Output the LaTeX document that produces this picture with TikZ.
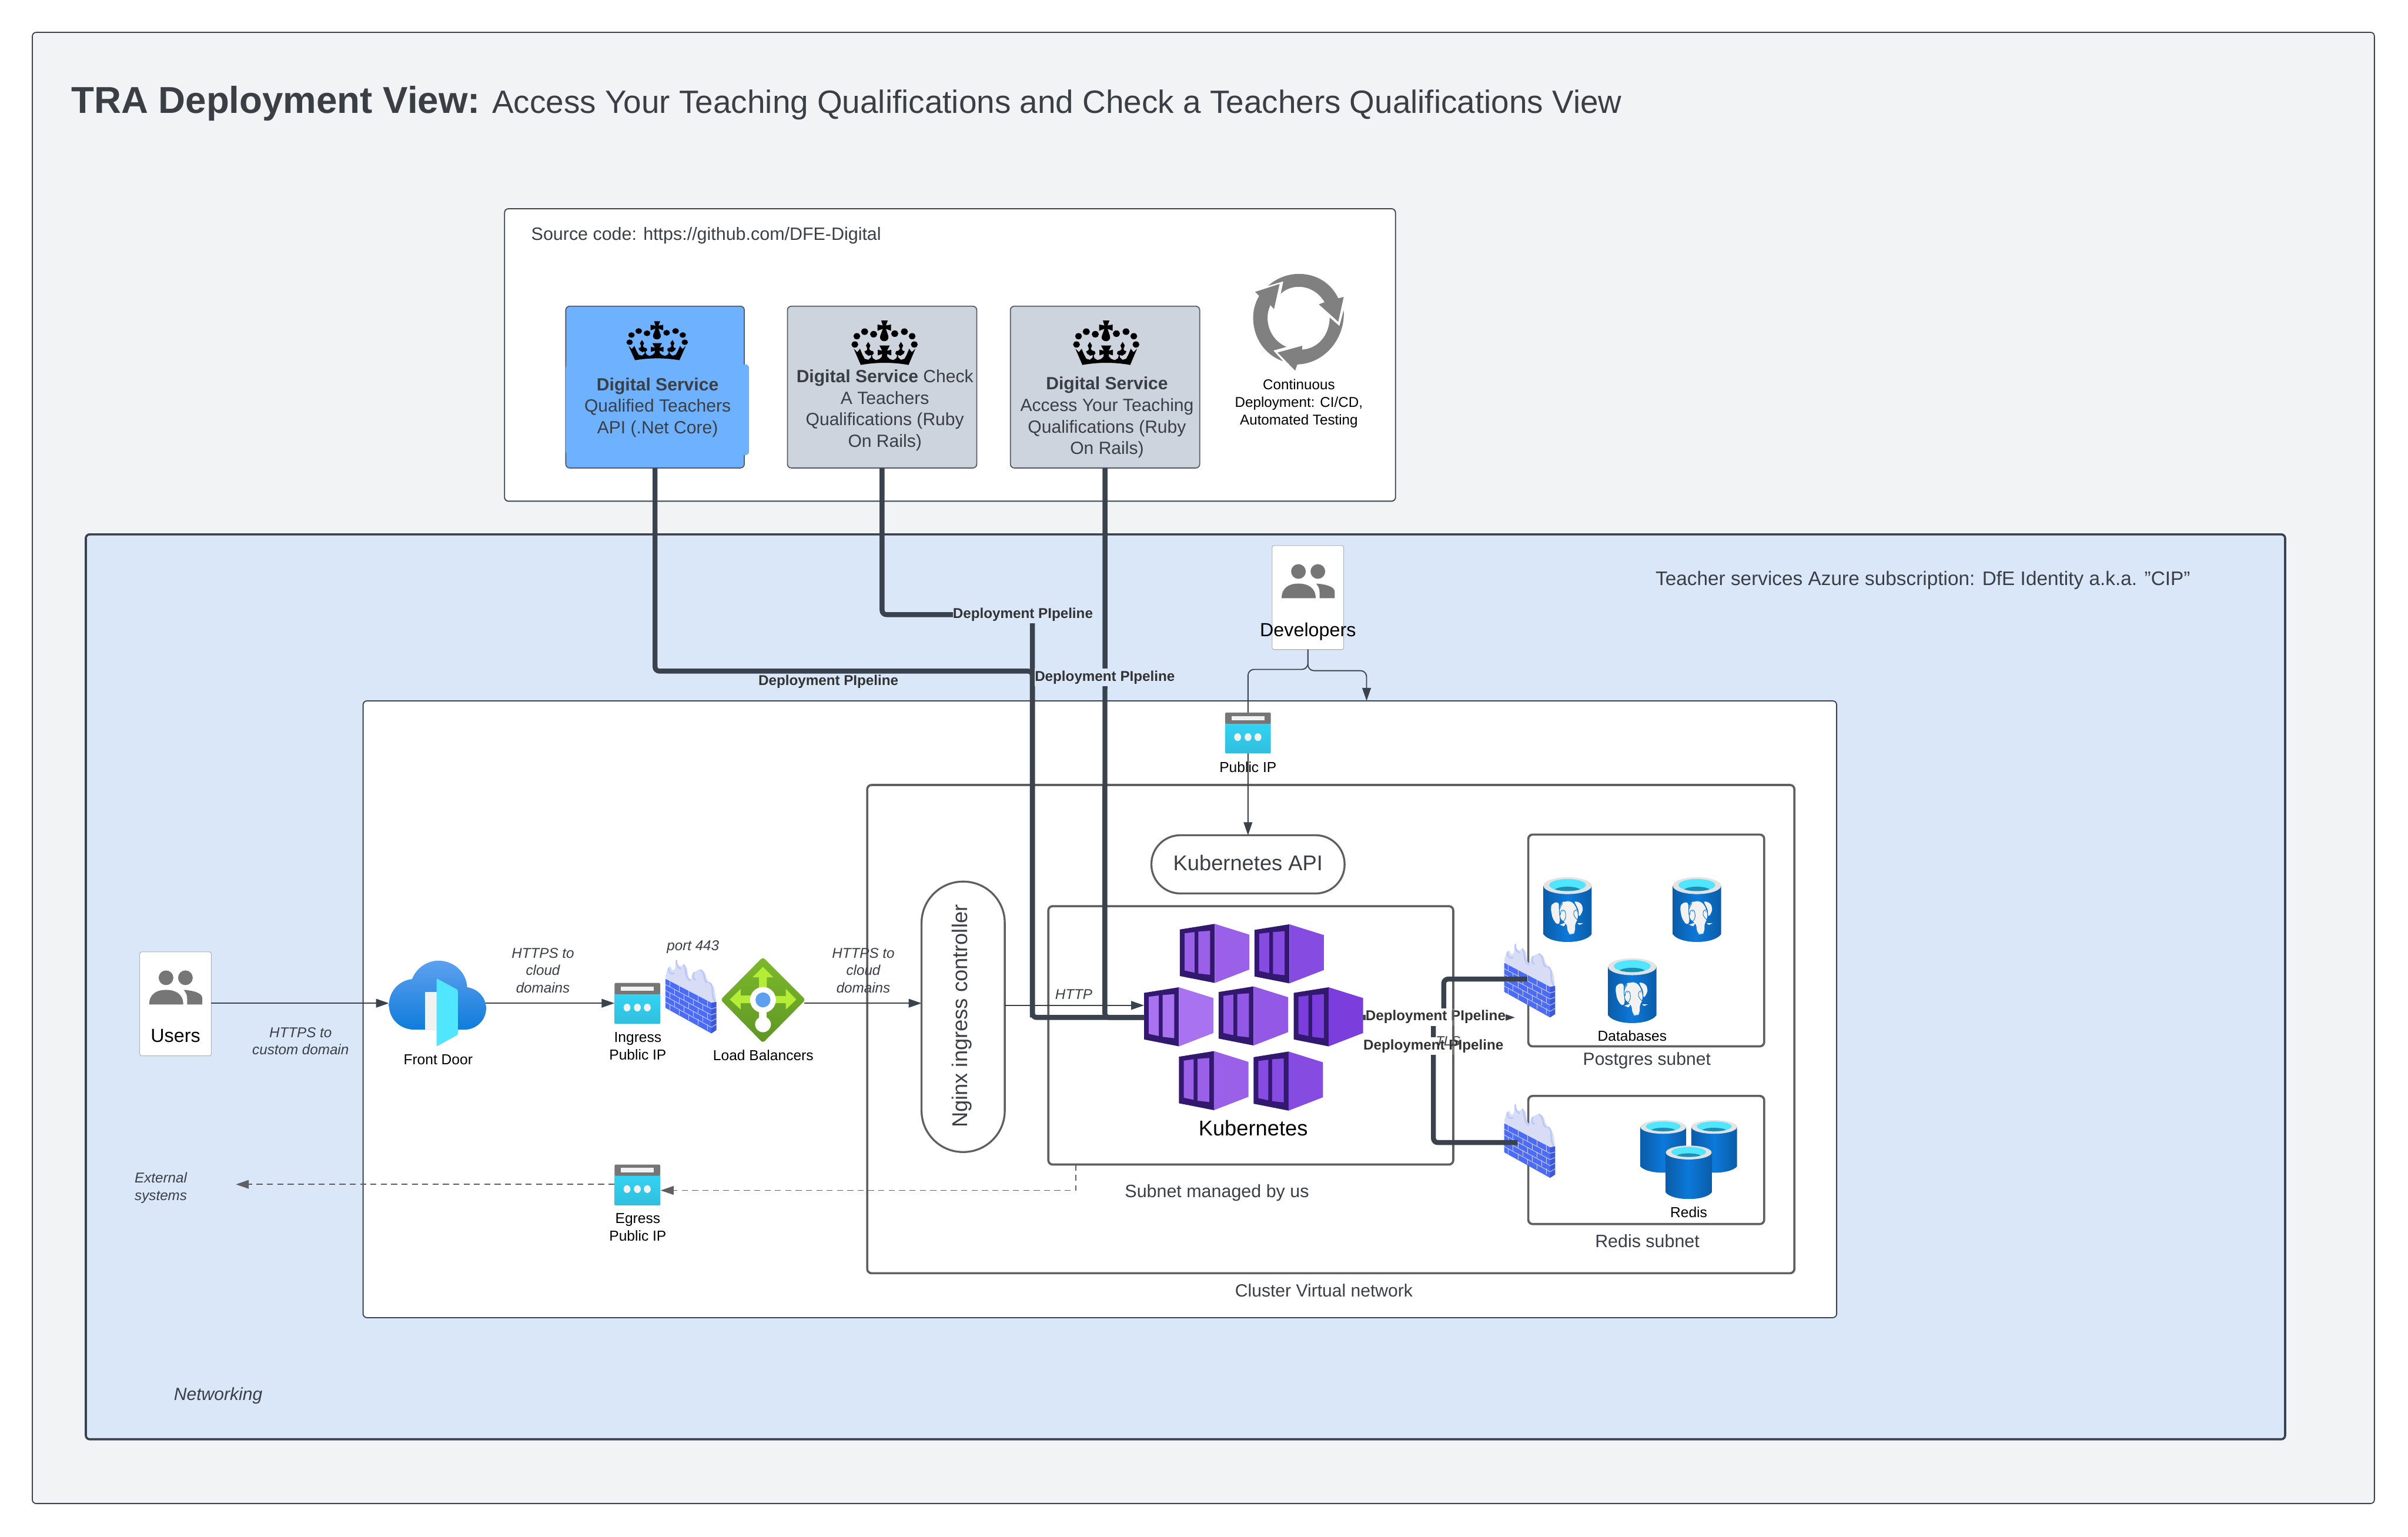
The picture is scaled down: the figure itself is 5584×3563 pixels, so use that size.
\documentclass[tikz,border=0pt]{standalone}
\usepackage{fontspec}
\setmainfont{Liberation Sans}
\usetikzlibrary{arrows.meta,shapes.geometric,calc}
\definecolor{pagebg}{HTML}{F2F3F5}
\definecolor{slate}{HTML}{3A424D}
\definecolor{boxgray}{HTML}{5F5F5F}
\definecolor{panelblue}{HTML}{DAE7F9}
\definecolor{cardblue}{HTML}{6DB1FF}
\definecolor{cardgray}{HTML}{CED4DE}
\definecolor{txt}{HTML}{3A3F45}
\definecolor{icongray}{HTML}{767676}
\definecolor{framep}{HTML}{32196F}
\definecolor{cyc}{HTML}{808080}
\definecolor{dashg}{HTML}{5F5F5F}
\definecolor{offw}{HTML}{F2F2F2}
\definecolor{ipa}{HTML}{32D4F5}
\definecolor{ipb}{HTML}{32BEDD}
\definecolor{flamea}{HTML}{D8DCF5}
\definecolor{flameb}{HTML}{B9C8FB}
\definecolor{bricka}{HTML}{4C6CF7}
\definecolor{brickb}{HTML}{3C58D8}
\definecolor{mortar}{HTML}{C8D0F8}
\definecolor{cyla}{HTML}{0B5CA8}
\definecolor{cylb}{HTML}{0C79DA}
\definecolor{rim}{HTML}{E3E3E3}
\definecolor{water}{HTML}{50E6FF}
\definecolor{waterd}{HTML}{1C8FB5}
\definecolor{elline}{HTML}{0C6EC8}
\definecolor{cloudt}{HTML}{5EA0EF}
\definecolor{cloudb}{HTML}{0F7CDB}
\definecolor{lbt}{HTML}{7DB92B}
\definecolor{lbb}{HTML}{5E9624}
\definecolor{lime}{HTML}{B4EC36}
\definecolor{kca}{HTML}{9B60E8}
\definecolor{kcb}{HTML}{864BE0}
\definecolor{kcc}{HTML}{A872F0}
\definecolor{kcd}{HTML}{9358E6}
\definecolor{kce}{HTML}{7B3EDC}
\newcommand\fsz[2]{\fontsize{#1}{#2}\selectfont}
\tikzset{
  x=1pt,y=-1pt,
  lab/.style={inner sep=0pt,outer sep=0pt,align=center,text=txt},
  labk/.style={inner sep=0pt,outer sep=0pt,align=center,text=black},
  iconbox/.style={inner sep=0pt,outer sep=0pt,draw=none},
  cardbox/.style={inner sep=0pt,outer sep=0pt,draw=slate!85,line width=2.5pt,rounded corners=9pt},
  framebox/.style={inner sep=0pt,outer sep=0pt,draw=boxgray,line width=5pt,rounded corners=10pt,fill=white},
  pill/.style={inner sep=0pt,outer sep=0pt,draw=boxgray,line width=4.5pt,fill=white},
  usercard/.style={inner sep=0pt,outer sep=0pt,fill=white,rounded corners=4pt,minimum width=166pt,minimum height=241pt},
  flow/.style={draw=slate,line width=3pt,-{Triangle[length=30pt,width=20pt]}},
  devflow/.style={draw=slate,line width=2.5pt,rounded corners=14pt,-{Triangle[length=30pt,width=20pt]}},
  dashflow/.style={draw=dashg,line width=2.5pt,dash pattern=on 14pt off 10pt,-{Triangle[length=30pt,width=20pt]}},
  pipe/.style={draw=slate,line width=11.5pt,rounded corners=10pt},
  pipelab/.style={inner sep=0pt,outer sep=0pt,text=black!80,font=\bfseries\fsz{33}{40}},
}
% group of people icon, given card top centre
\newcommand\groupicon[2]{%
\begin{scope}[shift={(#1,#2)},icongray]
\fill (-22,60) circle (17);
\fill (23,60) circle (17);
\fill (-61,122) .. controls (-61,97) and (-43,88) .. (-22,88) .. controls (-1,88) and (18,97) .. (18,122) -- cycle;
\fill (19,88) .. controls (45,90) and (62,96) .. (62,107) -- (62,122) -- (27,122) -- (27,108) .. controls (27,100) and (24,94) .. (19,88) -- cycle;
\end{scope}}
% public ip icon
\newcommand\ipicon[3]{%
\node[iconbox,anchor=north west,minimum width=106pt,minimum height=95pt] (#1) at (#2,#3) {};
\begin{scope}[shift={(#2,#3)}]
\shade[top color=ipa,bottom color=ipb,rounded corners=2pt] (0,22) rectangle (106,95);
\fill[icongray,rounded corners=3pt] (0,0) -- (106,0) -- (106,26) -- (0,26) -- cycle;
\fill[offw] (15,8) rectangle (91,18);
\fill[offw] (29,57) ellipse (8 and 9);
\fill[offw] (53,57) ellipse (8 and 9);
\fill[offw] (76,57) ellipse (8 and 9);
\end{scope}}
% firewall icon
\newcommand\fwall[3]{%
\node[iconbox,anchor=north west,minimum width=118pt,minimum height=171pt] (#1) at (#2,#3) {};
\begin{scope}[shift={(#2,#3)},scale=.3333,shift={(-40,-45)}]
\fill[flamea,rounded corners=6pt] (40,178) -- (42,148) -- (60,100) -- (78,85) -- (85,125) -- (108,115) -- (112,60) -- (118,45) -- (125,80) -- (145,100) -- (165,75) -- (190,95) -- (200,170) -- (220,190) -- (225,140) -- (262,120) -- (280,112) -- (315,130) -- (330,190) -- (345,200) -- (380,240) -- (395,340) -- (360,345) -- cycle;
\begin{scope}[flameb,line width=3.5pt,line cap=round]
\draw (62,105) .. controls (60,135) and (80,150) .. (100,140);
\draw (118,50) .. controls (112,80) and (130,100) .. (145,108);
\draw (167,80) .. controls (185,110) and (175,170) .. (212,190);
\draw (240,135) .. controls (225,160) and (235,180) .. (250,185);
\draw (282,116) .. controls (320,130) and (300,190) .. (330,205);
\draw (345,205) .. controls (385,225) and (350,290) .. (385,335);
\end{scope}
\fill[bricka] (40,178) -- (360,345) -- (360,558) -- (40,380) -- cycle;
\fill[brickb] (360,345) -- (395,338) -- (395,535) -- (360,558) -- cycle;
\begin{scope}[mortar,line width=1.3pt]
\foreach \r in {1,...,4} {\pgfmathsetmacro\ya{178+40.4*\r}\pgfmathsetmacro\yb{345+42.6*\r}\draw (40,\ya) -- (360,\yb);}
\foreach \r in {1,...,4} {\pgfmathsetmacro\ya{345+42.6*\r}\pgfmathsetmacro\yb{338+39*\r}\draw (360,\ya) -- (395,\yb);}
\foreach \r in {0,...,4} {\foreach \k in {0,...,4} {%
\pgfmathsetmacro\xa{70+66*\k+33*mod(\r,2)}%
\pgfmathsetmacro\ya{178+40.4*\r+.522*(\xa-40)}%
\pgfmathsetmacro\yb{\ya+40.4}%
\ifdim\xa pt<355pt\draw (\xa,\ya) -- (\xa,\yb);\fi}}
\end{scope}
\end{scope}}
% cylinder: x, y, w, h
\newcommand\dbcyl[4]{%
\begin{scope}[shift={(#1,#2)},xscale=#3/100,yscale=#4/100]
\shade[left color=cyla,right color=cyla,middle color=cylb] (0,13) -- (0,88) .. controls (15,104) and (85,104) .. (100,88) -- (100,13) -- cycle;
\fill[rim] (50,13) ellipse (50 and 13);
\fill[water] (50,12) ellipse (38 and 9.3);
\begin{scope}
\clip (50,12) ellipse (38 and 9.3);
\fill[waterd] (50,21) ellipse (28 and 6.5);
\end{scope}
\end{scope}}
% elephant
\newcommand\elephant[2]{%
\begin{scope}[shift={(#1,#2)},scale=.3333,shift={(-27,-25)}]
\fill[offw,rounded corners=7pt] (135,195) -- (90,205) -- (77,235) -- (90,310) -- (125,360) -- (145,335) -- (135,260) -- cycle;
\fill[offw,rounded corners=7pt] (235,190) -- (285,200) -- (303,235) -- (298,270) -- (272,305) -- (268,245) -- cycle;
\fill[offw,rounded corners=9pt] (170,193) -- (225,190) -- (262,245) -- (270,315) -- (245,345) -- (250,405) -- (225,428) -- (197,415) -- (190,345) -- (145,320) -- (136,250) -- (150,205) -- cycle;
\fill[offw] (140,355) -- (188,338) -- (170,366) -- cycle;
\fill[offw] (262,345) -- (303,345) -- (278,356) -- cycle;
\fill[elline] (163,262) circle (3);
\fill[elline] (255,262) circle (3);
\draw[elline,line width=1.2pt,rounded corners=4pt] (160,205) -- (137,250) -- (145,320) -- (168,335) -- (184,300) -- (178,255) -- (150,252) -- (145,285);
\draw[elline,line width=1.2pt,rounded corners=4pt] (240,195) -- (268,250) -- (272,315) -- (265,325) -- (237,290) -- (240,255) -- (265,250);
\end{scope}}
% crown
\newcommand\crownicon[4]{%
\begin{scope}[shift={(#1,#2)},xscale=#3,yscale=#4]
\fill[black] (25,150) circle (22) (75,118) circle (23) (133,136) circle (23) (269,132) circle (23) (331,118) circle (23) (381,150) circle (22) (12,208) circle (22) (395,208) circle (22);
\fill[black] (182,40) -- (224,40) -- (212,75) -- (245,68) -- (245,112) -- (212,98) -- (228,150) .. controls (232,175) and (215,185) .. (202,185) .. controls (188,185) and (170,175) .. (175,150) -- (192,98) -- (158,112) -- (158,68) -- (192,75) -- cycle;
\fill[black] (5,238) -- (28,262) -- (45,238) -- (62,282) -- (75,308) -- (98,316) -- (115,300) -- (118,282) -- (100,287) -- (80,272) -- (74,256) -- (88,250) -- (92,238) -- (84,215) -- (98,190) -- (112,215) -- (104,238) -- (112,250) -- (130,256) -- (134,272) -- (122,285) -- (128,305) -- (148,318) -- (170,310) -- (185,295) -- (188,275) -- (160,285) -- (160,245) -- (188,252) -- (170,215) -- (237,215) -- (219,252) -- (247,245) -- (247,285) -- (219,275) -- (222,295) -- (237,310) -- (259,318) -- (279,305) -- (285,285) -- (273,272) -- (277,256) -- (295,250) -- (303,238) -- (295,215) -- (309,190) -- (323,215) -- (315,238) -- (319,250) -- (333,256) -- (327,272) -- (307,287) -- (289,282) -- (292,300) -- (309,316) -- (332,308) -- (345,282) -- (362,238) -- (379,262) -- (402,238) -- (358,352) .. controls (260,332) and (150,332) .. (50,352) -- cycle;
\end{scope}}
% kubernetes cube
\newcommand\kcube[4]{%
\node[iconbox,anchor=north west,minimum width=161pt,minimum height=137pt] (#1) at (#2,#3) {};
\begin{scope}[shift={(#2,#3)}]
\fill[framep] (0,13) -- (81,0) -- (81,137) -- (0,121) -- cycle;
\fill[#4] (81,0) -- (161,25) -- (161,106) -- (81,137) -- cycle;
\fill[#4] (11,22) -- (34,19) -- (34,113) -- (11,108) -- cycle;
\fill[#4] (43,18) -- (70,16) -- (70,118) -- (43,115) -- cycle;
\end{scope}}
\begin{document}
\begin{tikzpicture}
\useasboundingbox (0,0) rectangle (5584,3563);
\fill[white] (0,0) rectangle (5584,3563);
% panels
\draw[fill=pagebg,draw=slate,line width=2.5pt,rounded corners=9pt] (75,75) rectangle (5506,3486);
\node[anchor=base west,inner sep=0pt,text=txt,font=\fsz{74.8}{88}] (title) at (165,262) {{\bfseries\fsz{86.8}{88}TRA Deployment View:} Access Your Teaching Qualifications and Check a Teachers Qualifications View};
\node[iconbox,fill=panelblue,draw=slate,line width=5pt,rounded corners=9pt,minimum width=5100pt,minimum height=2098pt] (azure) at (2749,2288) {};
\node[iconbox,fill=white,draw=slate,line width=2.5pt,rounded corners=9pt,minimum width=2066pt,minimum height=678pt] (source) at (2203,823) {};
\node[iconbox,fill=white,draw=slate,line width=2.5pt,rounded corners=9pt,minimum width=3417pt,minimum height=1430pt] (network) at (2550.5,2340) {};
\node[framebox,minimum width=2150pt,minimum height=1132pt] (cluster) at (3086,2386) {};
\node[framebox,minimum width=939pt,minimum height=599pt] (aks) at (2900.5,2400.5) {};
\node[framebox,minimum width=547pt,minimum height=491pt] (pgsubnet) at (3817.5,2180.5) {};
\node[framebox,minimum width=547pt,minimum height=297pt] (rdsubnet) at (3817.5,2689.5) {};
% source cards
\node[cardbox,fill=cardblue,minimum width=414pt,minimum height=375pt] (card1) at (1519,897.5) {};
\fill[cardblue,rounded corners=8pt] (1312,845) rectangle (1737,1055);
\node[cardbox,fill=cardgray,minimum width=439pt,minimum height=375pt] (card2) at (2045.5,897.5) {};
\node[cardbox,fill=cardgray,minimum width=439pt,minimum height=375pt] (card3) at (2562.5,897.5) {};
\crownicon{1456}{733.4}{.334}{.289}
\crownicon{1978}{730}{.36}{.33}
\crownicon{2492}{730}{.36}{.33}
\node[lab,font=\fsz{41}{50}] (t1) at (1525,945) {\textbf{Digital Service}\\Qualified Teachers\\API (.Net Core)};
\node[lab,font=\fsz{41}{50}] (t2) at (2052,951) {\textbf{Digital Service} Check\\A Teachers\\Qualifications (Ruby\\On Rails)};
\node[lab,font=\fsz{41}{50}] (t3) at (2567,968) {\textbf{Digital Service}\\Access Your Teaching\\Qualifications (Ruby\\On Rails)};
\node[lab,anchor=west,font=\fsz{41.5}{50}] (srclab) at (1232,546) {Source code: https://github.com/DFE-Digital};
% cycle icon
\begin{scope}[shift={(2890,620)},scale=.3333,cyc]
\fill (152,128) .. controls (210,75) and (290,45) .. (365,45) .. controls (490,45) and (590,110) .. (640,215) -- (678,205) -- (640,378) -- (505,257) -- (545,242) .. controls (505,175) and (440,135) .. (365,135) .. controls (320,135) and (275,150) .. (240,183) -- (258,97) -- cycle;
\fill (678,298) .. controls (690,500) and (540,670) .. (355,675) -- (340,718) -- (218,592) -- (390,545) -- (388,572) .. controls (500,565) and (580,470) .. (580,348) -- (648,408) -- cycle;
\fill (255,652) .. controls (130,610) and (48,490) .. (48,350) .. controls (48,290) and (65,240) .. (90,198) -- (62,170) -- (232,115) -- (193,290) -- (168,262) .. controls (155,290) and (148,320) .. (148,350) .. controls (148,440) and (200,520) .. (280,553) -- (188,578) -- cycle;
\end{scope}
\node[labk,font=\fsz{33}{41}] (cdlab) at (3012,936) {Continuous\\Deployment: CI/CD,\\Automated Testing};
% azure label
\node[lab,font=\fsz{45.5}{50}] (azlab) at (4459,1345) {Teacher services Azure subscription: DfE Identity a.k.a. "CIP"};
\node[lab,font=\itshape\fsz{41}{50}] (netlab) at (506,3236) {Networking};
% user cards
\node[usercard,draw=black!30,line width=1.5pt] (users) at (407,2327.5) {};
\node[usercard,draw=black!30,line width=1.5pt] (devs) at (3033,1385.5) {};
\groupicon{407}{2207}
\groupicon{3033}{1265}
\node[labk,font=\fsz{44}{50}] (userslab) at (407,2402) {Users};
\node[labk,font=\fsz{44}{50}] (devslab) at (3033,1464) {Developers};
% anchor nodes
\node[iconbox,minimum width=224pt,minimum height=198pt] (fdoor) at (1014,2326) {};
\node[iconbox,minimum width=193pt,minimum height=195pt] (lb) at (1769,2318.5) {};
\node[pill,rounded corners=96pt,minimum width=193pt,minimum height=627pt] (nginx) at (2233.5,2357.5) {};
\node[lab,rotate=90,font=\fsz{49.5}{55}] (nginxlab) at (2230,2356) {Nginx ingress controller};
\node[pill,rounded corners=67pt,minimum width=448pt,minimum height=135pt,font=\fsz{49.5}{55},text=txt] (kapi) at (2894,2004) {\raisebox{7pt}{Kubernetes API}};
% named routing points
\coordinate (row) at (0,2326);
\coordinate (httprow) at (0,2331);
\coordinate (dropt) at (2495,2700);
\coordinate (egin) at (1532,2760);
\coordinate (exttip) at (547,2746);
\coordinate (devbusa) at (0,1552);
\coordinate (devbusb) at (0,1555);
\coordinate (netin) at (3169,1625);
\coordinate (busa) at (2394,1556);
\coordinate (busb) at (2394,1425);
\coordinate (merge) at (2394,2359);
\coordinate (busc) at (2562,2359);
\coordinate (pipey) at (0,2359);
\coordinate (pa) at (3348,2359);
\coordinate (pb) at (3348,2270);
\coordinate (pc) at (3542,2270);
\coordinate (qa) at (3324,2359);
\coordinate (qb) at (3324,2649);
\coordinate (qc) at (3519,2649);
\coordinate (tlsin) at (3513,2359);
% ip icons placed first so lines can pass
\node[iconbox,anchor=north west,minimum width=106pt,minimum height=95pt] (ingress) at (1425,2279) {};
\node[iconbox,anchor=north west,minimum width=106pt,minimum height=94pt] (egress) at (1425,2700) {};
\node[iconbox,anchor=north west,minimum width=106pt,minimum height=94pt] (pubip) at (2841,1652) {};
% thin connectors
\draw[flow] (users.east |- row) -- (fdoor.west |- row);
\draw[flow] (fdoor.east |- row) -- (ingress.west |- row);
\draw[flow] (lb.east |- row) -- (nginx.west |- row);
\draw[devflow] (devs.south) -- (devs.south |- devbusa) -- (kapi.north |- devbusa) -- (kapi.north);
\draw[devflow] (devs.south) -- (devs.south |- devbusb) -- (netin |- devbusb) -- (netin);
\draw[dashflow] (dropt) |- (egin);
\draw[dashflow] (egress.west |- exttip) -- (exttip);
% cubes
\kcube{kube1}{2736}{2142}{kca}
\kcube{kube2}{2909}{2143}{kcb}
\kcube{kube3}{2653}{2289}{kcc}
\kcube{kube4}{2826}{2287}{kcd}
\kcube{kube5}{3000}{2289}{kce}
\kcube{kube6}{2734}{2437}{kca}
\kcube{kube7}{2907}{2438}{kcb}
\draw[flow] (nginx.east |- httprow) -- (kube3.west |- httprow);
% icons
\ipicon{ingressicon}{1425}{2279}
\ipicon{egressicon}{1425}{2700}
\ipicon{pubipicon}{2841}{1652}
% front door
\begin{scope}[shift={(890,2215)},scale=.3333]
\shade[top color=cloudt,bottom color=cloudb] (215,517) .. controls (110,517) and (36,440) .. (36,345) .. controls (36,250) and (105,175) .. (197,165) .. controls (225,90) and (300,37) .. (380,37) .. controls (490,37) and (575,120) .. (580,222) .. controls (655,232) and (712,295) .. (712,368) .. controls (712,450) and (645,517) .. (560,517) -- cycle;
\fill[offw] (285,255) rectangle (370,517);
\fill[water,rounded corners=3pt] (367,160) -- (515,240) -- (515,552) -- (367,634) -- cycle;
\end{scope}
% load balancer
\shade[top color=lbt,bottom color=lbb,rounded corners=6pt] (1769,2219) -- (1868,2318) -- (1769,2418) -- (1671,2318) -- cycle;
\begin{scope}[shift={(1530,2210)},scale=.3333]
\fill[lime] (718,95) -- (790,168) -- (745,168) -- (745,240) -- (690,240) -- (690,168) -- (645,168) -- cycle;
\fill[lime] (487,322) -- (563,248) -- (563,295) -- (640,295) -- (640,348) -- (563,348) -- (563,392) -- cycle;
\fill[lime] (950,322) -- (877,248) -- (877,298) -- (800,298) -- (800,348) -- (877,348) -- (877,392) -- cycle;
\fill[white] (692,390) rectangle (745,470);
\fill[white] (718,325) circle (90);
\fill[white] (718,495) circle (55);
\fill[cloudt] (718,325) circle (52);
\end{scope}
% databases
\dbcyl{3579}{2034}{112}{150}
\dbcyl{3879}{2034}{112}{150}
\dbcyl{3729}{2222}{112}{150}
\elephant{3579}{2034}
\elephant{3879}{2034}
\elephant{3729}{2222}
\dbcyl{3804}{2597}{106}{122}
\dbcyl{3922}{2597}{106}{122}
\dbcyl{3863}{2656}{106}{124}
% firewalls
\fwall{fw0}{1543}{2225}
\fwall{fw1}{3488}{2188}
\fwall{fw2}{3488}{2560}
% pipelines
\draw[pipe] (card1.south) |- (busa) -- (merge) -- (kube3.west |- pipey);
\draw[pipe] (card2.south) |- (busb) -- (merge);
\draw[pipe] (card3.south) -- (busc) -- (kube3.west |- pipey);
\draw[pipe] (kube5.east |- pipey) -- (pa) -- (pb) -- (pc);
\draw[pipe] (kube5.east |- pipey) -- (qa) -- (qb) -- (qc);
\draw[flow] (kube5.east |- pipey) -- (tlsin);
% pipeline labels
\node[pipelab] (pl1) at (1921,1580) {Deployment PIpeline};
\node[pipelab,fill=panelblue,minimum height=41pt] (pl2) at (2372,1425) {Deployment PIpeline};
\node[pipelab,fill=panelblue,minimum height=41pt] (pl3) at (2562,1571) {Deployment PIpeline};
\node[pipelab,fill=white,minimum height=41pt] (pl4) at (3329,2358) {Deployment PIpeline};
\node[pipelab,fill=white,minimum height=41pt] (pl5) at (3324,2425) {Deployment PIpeline};
\draw[boxgray,line width=5pt,opacity=.85] (aks.east |- pl4.north) -- (aks.east |- pl5.south);
\node[lab,font=\itshape\fsz{31}{36}] (tls) at (3358,2414) {TLS};
% flow text
\node[lab,font=\itshape\fsz{33}{40}] (h1) at (697,2414) {HTTPS to\\custom domain};
\node[lab,font=\itshape\fsz{33}{40}] (h2) at (1259,2250) {HTTPS to\\cloud\\domains};
\node[lab,font=\itshape\fsz{33}{40}] (h3) at (2002,2250) {HTTPS to\\cloud\\domains};
\node[lab,font=\itshape\fsz{33}{40}] (port) at (1607,2195) {port 443};
\node[lab,font=\itshape\fsz{33}{40}] (httplab) at (2490,2306) {HTTP};
\node[lab,font=\itshape\fsz{33}{41}] (extlab) at (373,2754) {External\\systems};
% icon labels
\node[labk,font=\fsz{33.5}{41}] (fdlab) at (1016,2457) {Front Door};
\node[labk,font=\fsz{33.5}{41}] (inglab) at (1479,2425) {Ingress\\Public IP};
\node[labk,font=\fsz{33.5}{41}] (lblab) at (1770,2447) {Load Balancers};
\node[labk,font=\fsz{33.5}{41}] (eglab) at (1479,2845) {Egress\\Public IP};
\node[labk,font=\fsz{33.5}{41}] (pilab) at (2894,1778) {Public IP};
\node[labk,font=\fsz{33.5}{41}] (dblab) at (3785,2402) {Databases};
\node[labk,font=\fsz{33.5}{41}] (rdlab) at (3916,2810) {Redis};
\node[labk,font=\fsz{49.5}{55}] (kubelab) at (2906,2615) {Kubernetes};
\node[lab,font=\fsz{41}{46}] (pglab) at (3819,2459) {Postgres subnet};
\node[lab,font=\fsz{41.5}{46}] (rslab) at (3820,2878) {Redis subnet};
\node[lab,font=\fsz{41.5}{46}] (sublab) at (2822,2766) {Subnet managed by us};
\node[lab,font=\fsz{41}{46}] (clab) at (3070,2992) {Cluster Virtual network};
\end{tikzpicture}
\end{document}
